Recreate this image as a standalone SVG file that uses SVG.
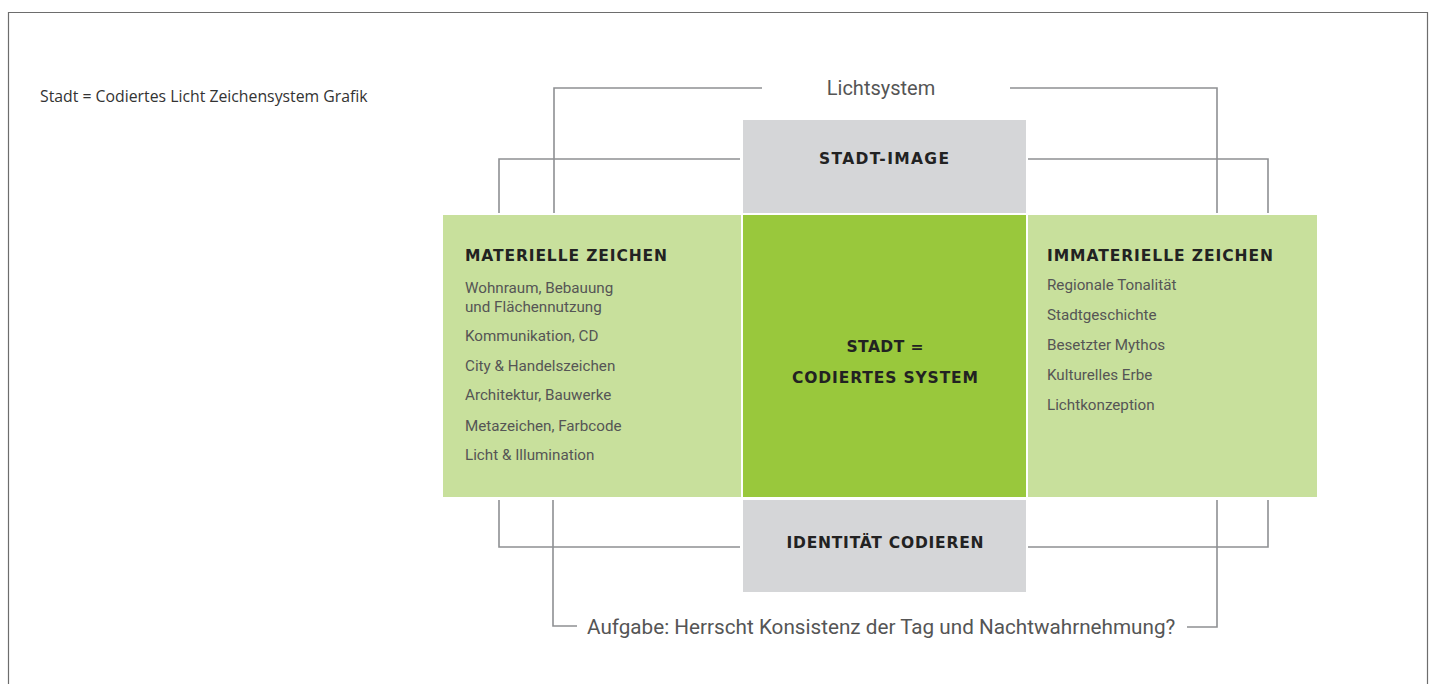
<svg xmlns="http://www.w3.org/2000/svg" width="1434" height="684" viewBox="0 0 1434 684">
<style>
.frame{fill:none;stroke:#6d6d6d;stroke-width:1.2}
.ln{fill:none;stroke:#8e9093;stroke-width:1.6}
.gray{fill:#d5d6d8}
.lg{fill:#c8e09c}
.dg{fill:#99c83c}
.hd{font-family:"DejaVu Sans",sans-serif;font-weight:bold;font-size:15.5px;fill:#222}
.it{font-family:Roboto,"Liberation Sans",sans-serif;font-size:15.2px;fill:#555}
.lab{font-family:Roboto,"Liberation Sans",sans-serif;font-size:20px;fill:#555}
.title{font-family:"Open Sans","Noto Sans",sans-serif;font-size:15.8px;fill:#333}
</style>
<rect width="1434" height="684" fill="#fff"/>
<path class="frame" d="M8.5,690 V12.5 H1427.5 V690"/>
<text class="title" x="40" y="102">Stadt = Codiertes Licht Zeichensystem Grafik</text>
<g id="connectors">
<path class="ln" d="M762,88 H554 V213"/>
<path class="ln" d="M1010,88 H1217 V213"/>
<path class="ln" d="M740,159 H499 V213"/>
<path class="ln" d="M1028,159 H1268 V213"/>
<path class="ln" d="M740,547 H499 V500"/>
<path class="ln" d="M1028,547 H1268 V500"/>
<path class="ln" d="M577,626 H553 V500"/>
<path class="ln" d="M1187,627 H1217 V500"/>
</g>
<g id="lichtsystem"><text class="lab" x="881" y="95" text-anchor="middle">Lichtsystem</text></g>
<g id="stadt-image">
<rect class="gray" x="743" y="120" width="283" height="93"/>
<text class="hd" x="884" y="164" text-anchor="middle" textLength="130">STADT-IMAGE</text>
</g>
<g id="materielle">
<rect class="lg" x="443" y="215" width="298" height="282"/>
<text class="hd" x="465" y="261" textLength="202">MATERIELLE ZEICHEN</text>
<text class="it" x="465" y="293">Wohnraum, Bebauung</text>
<text class="it" x="465" y="312">und Flächennutzung</text>
<text class="it" x="465" y="341">Kommunikation, CD</text>
<text class="it" x="465" y="371">City &amp; Handelszeichen</text>
<text class="it" x="465" y="400">Architektur, Bauwerke</text>
<text class="it" x="465" y="431">Metazeichen, Farbcode</text>
<text class="it" x="465" y="460">Licht &amp; Illumination</text>
</g>
<g id="stadt">
<rect class="dg" x="743" y="215" width="283" height="282"/>
<text class="hd" x="885" y="352" text-anchor="middle" textLength="77">STADT =</text>
<text class="hd" x="885" y="383" text-anchor="middle" textLength="186">CODIERTES SYSTEM</text>
</g>
<g id="immaterielle">
<rect class="lg" x="1028" y="215" width="289" height="282"/>
<text class="hd" x="1047" y="261" textLength="226">IMMATERIELLE ZEICHEN</text>
<text class="it" x="1047" y="290">Regionale Tonalität</text>
<text class="it" x="1047" y="320">Stadtgeschichte</text>
<text class="it" x="1047" y="350">Besetzter Mythos</text>
<text class="it" x="1047" y="380">Kulturelles Erbe</text>
<text class="it" x="1047" y="410">Lichtkonzeption</text>
</g>
<g id="identitaet">
<rect class="gray" x="743" y="500" width="283" height="92"/>
<text class="hd" x="885" y="548" text-anchor="middle" textLength="197">IDENTITÄT CODIEREN</text>
</g>
<g id="aufgabe"><text class="lab" x="587" y="634" style="font-size:20.7px">Aufgabe: Herrscht Konsistenz der Tag und Nachtwahrnehmung?</text></g>
</svg>
